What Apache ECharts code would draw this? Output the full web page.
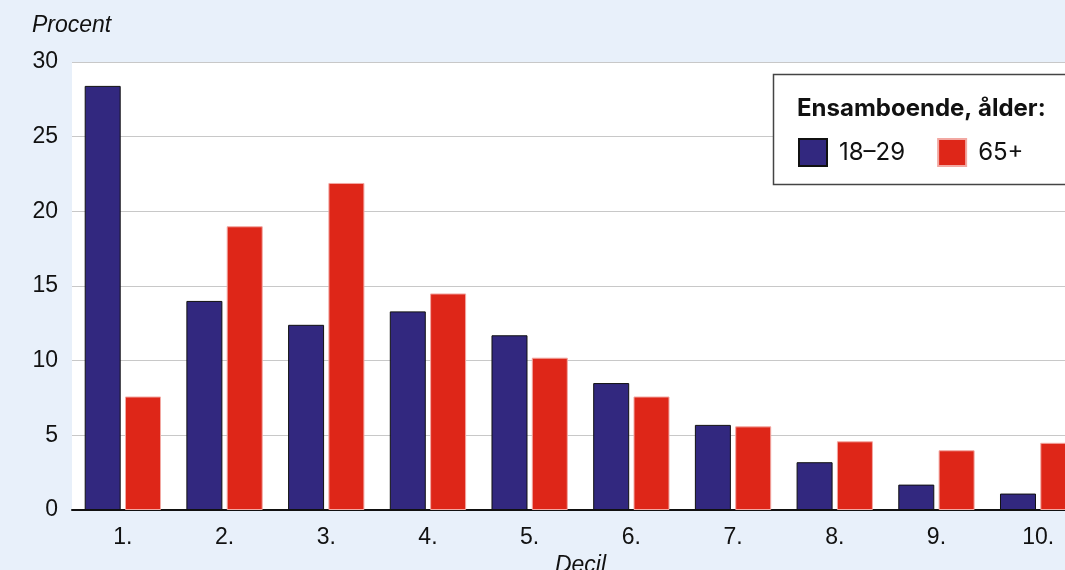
<!DOCTYPE html>
<html><head><meta charset="utf-8">
<script src="https://cdn.jsdelivr.net/npm/echarts@6/dist/echarts.min.js"></script>
<style>html,body{margin:0;padding:0;background:#e8f0fa;}#c{width:1065px;height:570px;}</style>
</head><body><div id="c"></div>
<script>
const categories = ['1.','2.','3.','4.','5.','6.','7.','8.','9.','10.'];
const seriesNames = ['18–29','65+'];
const young = [28.4,14.0,12.4,13.3,11.7,8.5,5.7,3.2,1.7,1.1];
const old = [7.6,19.0,21.9,14.5,10.2,7.6,5.6,4.6,4.0,4.5];
const yTicks = [0,5,10,15,20,25,30];
const legendTitle = 'Ensamboende, ålder:';
const yName = 'Procent';
const xName = 'Decil';

const font = '"Liberation Sans", Arial, sans-serif';
const lfont = 'Inter, "Noto Sans", sans-serif';
const chart = echarts.init(document.getElementById('c'));
chart.setOption({
  backgroundColor:'#e8f0fa',
  animation:false,
  textStyle:{fontFamily:font},
  grid:{left:72,top:62,width:1017,height:448,show:true,backgroundColor:'#ffffff',borderWidth:0,outerBoundsMode:'none',containLabel:false},
  graphic:[
    {type:'text',left:32,top:14,style:{text:yName,font:'italic 23px '+font,fill:'#111'}},
    {type:'rect',shape:{x:773.5,y:74.5,width:300,height:110},style:{fill:'#fff',stroke:'#444',lineWidth:1.5},z:10},
    {type:'text',left:797,top:97,style:{text:legendTitle,font:'bold 24px '+lfont,fill:'#111'},z:11}
  ],
  legend:{left:798,top:138,itemWidth:28,itemHeight:27,itemGap:32,z:12,icon:'rect',padding:0,
    textStyle:{fontSize:24,color:'#111',fontFamily:lfont,padding:[0,0,0,7]},data:seriesNames},
  xAxis:{type:'category',data:categories,
    name:xName,nameLocation:'middle',nameGap:42,
    nameTextStyle:{fontStyle:'italic',fontSize:23,color:'#111',fontFamily:font},
    axisLine:{lineStyle:{color:'#111',width:2}},axisTick:{show:false},
    axisLabel:{fontSize:23,color:'#111',margin:16,fontFamily:font}},
  yAxis:{type:'value',min:yTicks[0],max:yTicks[yTicks.length-1],interval:5,
    axisLine:{show:false},axisTick:{show:false},
    axisLabel:{fontSize:23,color:'#111',margin:14,fontFamily:font},
    splitLine:{lineStyle:{color:'#c8c8c8',width:1}}},
  series:[
    {name:seriesNames[0],type:'bar',data:young,barWidth:36,barGap:'12%',
      itemStyle:{color:'#32287f',borderColor:'#111',borderWidth:1}},
    {name:seriesNames[1],type:'bar',data:old,barWidth:36,barGap:'12%',
      itemStyle:{color:'#de2618',borderColor:'#f2a8a2',borderWidth:1}}
  ]
});
</script></body></html>
